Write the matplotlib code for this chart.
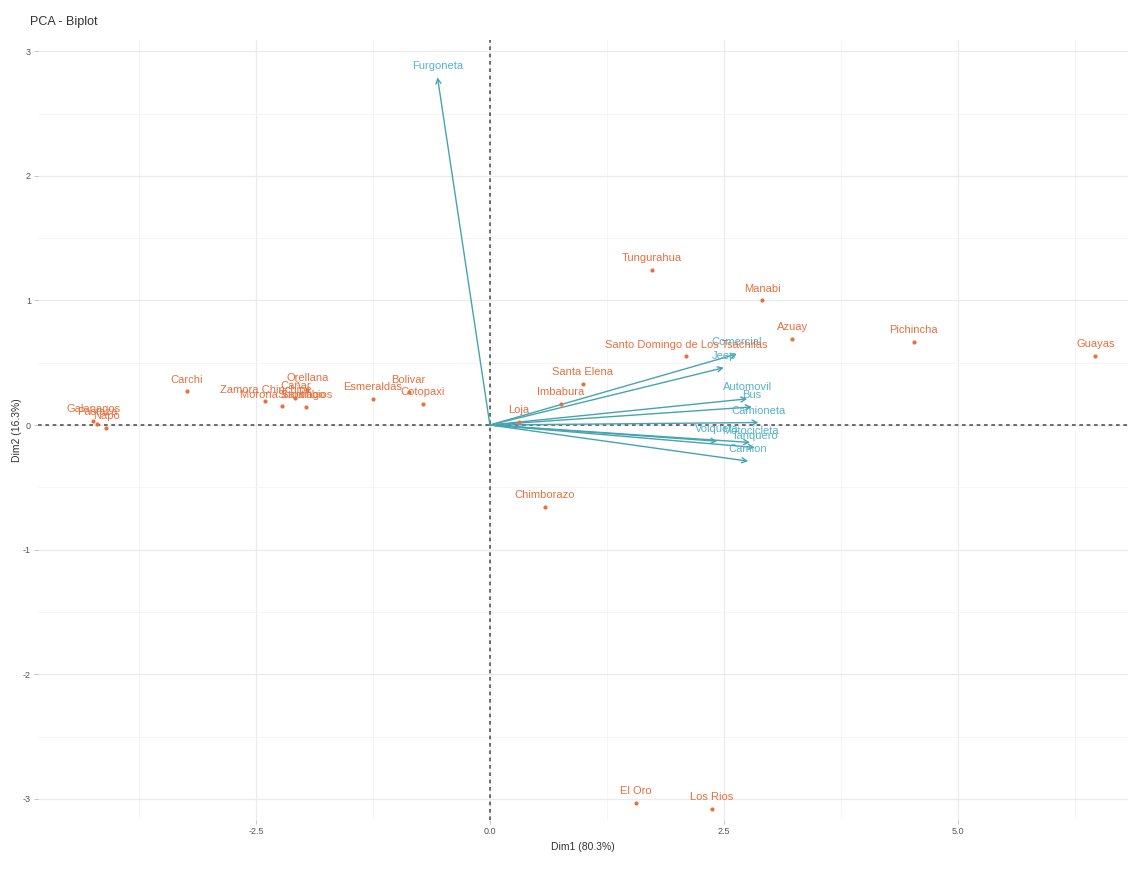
import matplotlib
matplotlib.use("Agg")
import matplotlib.pyplot as plt
import numpy as np

plt.rcParams['font.family'] = ['Liberation Sans', 'DejaVu Sans']
plt.rcParams['axes.unicode_minus'] = False

# Individuals (provinces) coordinates on Dim1 / Dim2
ind_names = ["Galapagos", "Pastaza", "Napo", "Carchi", "Zamora Chinchipe", "Morona Santiago",
             "Sucumbios", "Orellana", "Cañar", "Esmeraldas", "Bolivar", "Cotopaxi", "Loja",
             "Imbabura", "Santa Elena", "Santo Domingo de Los Tsachilas", "Tungurahua",
             "Manabi", "Azuay", "Pichincha", "Guayas", "Chimborazo", "El Oro", "Los Rios"]
ind_x = [-4.24, -4.20, -4.10, -3.24, -2.40, -2.22, -1.97, -1.95, -2.08, -1.25, -0.87, -0.72, 0.31,
         0.76, 0.99, 2.10, 1.73, 2.91, 3.23, 4.53, 6.47, 0.59, 1.56, 2.37]
ind_y = [0.03, 0.01, -0.02, 0.27, 0.19, 0.15, 0.145, 0.28, 0.22, 0.21, 0.265, 0.17, 0.025,
         0.17, 0.33, 0.55, 1.245, 1.00, 0.69, 0.67, 0.555, -0.66, -3.03, -3.08]

# Variables (vehicle classes) arrow ends
var_names = ["Furgoneta", "Comercial", "Jeep", "Automovil", "Bus", "Camioneta",
             "Volqueta", "Motocicleta", "Tanquero", "Camion"]
var_x = [-0.56, 2.64, 2.50, 2.75, 2.80, 2.87, 2.43, 2.78, 2.83, 2.76]
var_y = [2.79, 0.57, 0.46, 0.21, 0.145, 0.02, -0.13, -0.14, -0.18, -0.29]

x_ticks = [-2.5, 0.0, 2.5, 5.0]
x_ticklabels = ["-2.5", "0.0", "2.5", "5.0"]
y_ticks = [-3, -2, -1, 0, 1, 2, 3]

ind_color = "#E6703F"
var_color = "#55B3C6"
arrow_color = "#46A3B1"

fig = plt.figure(figsize=(11.32, 8.8), dpi=100)
ax = fig.add_axes([38/1132, 60/880, 1090/1132, 780/880])

ax.set_xlim(-4.83, 6.82)
ax.set_ylim(-3.17, 3.09)

# grid
for v in np.arange(-3.75, 7.0, 2.5):
    ax.axvline(v, color="#F4F4F4", lw=0.6, zorder=0)
for v in x_ticks:
    ax.axvline(v, color="#EBEBEB", lw=0.9, zorder=0)
for v in np.arange(-2.5, 3.1, 1.0):
    ax.axhline(v, color="#F4F4F4", lw=0.6, zorder=0)
for v in y_ticks:
    ax.axhline(v, color="#EBEBEB", lw=0.9, zorder=0)

ax.axhline(0, color="#555555", lw=1.2, linestyle=(0, (2.2, 2.2)), zorder=1)
ax.axvline(0, color="#555555", lw=1.2, linestyle=(0, (2.2, 2.2)), zorder=1)

for s in ax.spines.values():
    s.set_visible(False)

ax.set_xticks(x_ticks)
ax.set_xticklabels(x_ticklabels)
ax.set_yticks(y_ticks)
ax.tick_params(axis='both', length=3, width=0.6, color="#BBBBBB", labelsize=6.5,
               labelcolor="#555555", pad=2)

# arrows
for n, x, y in zip(var_names, var_x, var_y):
    ax.annotate("", xy=(x, y), xytext=(0, 0),
                arrowprops=dict(arrowstyle="->,head_length=0.35,head_width=0.18",
                                color=arrow_color, lw=1.0, shrinkA=0, shrinkB=0), zorder=3)
    ax.annotate(n, xy=(x, y), xytext=(0, 8.5), textcoords="offset points",
                ha="center", va="center", fontsize=8, color=var_color, zorder=4)

# individuals
ax.scatter(ind_x, ind_y, s=4, color=ind_color, zorder=5)
for n, x, y in zip(ind_names, ind_x, ind_y):
    ax.annotate(n, xy=(x, y), xytext=(0, 8.5), textcoords="offset points",
                ha="center", va="center", fontsize=8, color=ind_color, zorder=6)

fig.text(30/1132, 1 - 22/880, "PCA - Biplot", fontsize=9, color="#333333", va="center", ha="left")
ax.set_xlabel("Dim1 (80.3%)", fontsize=7.5, color="#333333", labelpad=4)
ax.set_ylabel("Dim2 (16.3%)", fontsize=7.5, color="#333333", labelpad=1)

fig.savefig("out.png", dpi=100)
